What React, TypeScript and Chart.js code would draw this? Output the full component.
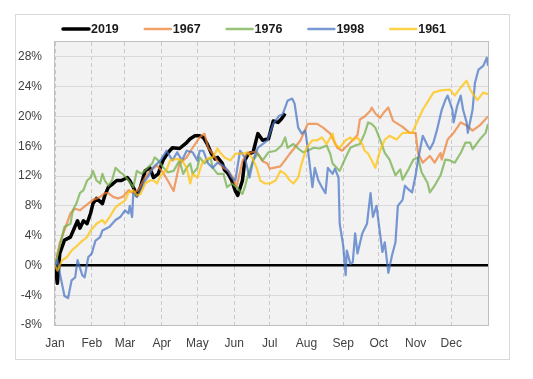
import { useEffect, useRef } from 'react';
import { Chart, registerables } from 'chart.js';

Chart.register(...registerables);

// ---- axis data ----
const monthLabels = ['Jan', 'Feb', 'Mar', 'Apr', 'May', 'Jun', 'Jul', 'Aug', 'Sep', 'Oct', 'Nov', 'Dec'];
const monthStartDays = [0, 31, 59, 90, 120, 151, 181, 212, 243, 273, 304, 334];
const yTicks = [-8, -4, 0, 4, 8, 12, 16, 20, 24, 28];

// ---- series (day of year, YTD % return) ----
const seriesNames = ['2019', '1967', '1976', '1998', '1961'];

const days2019 = [0, 2, 4, 8, 13, 19, 21, 24, 27, 30, 32, 35, 40, 42, 45, 49, 52, 56, 61, 63, 66, 69, 72, 76, 80, 83, 87, 91, 95, 99, 105, 111, 114, 118, 122, 125, 128, 132, 135, 137, 141, 143, 146, 149, 152, 154, 158, 160, 163, 167, 171, 175, 180, 184, 188, 191, 194];
const vals2019 = [0, -2.4, 1.6, 3.4, 3.8, 6, 5, 6, 5.6, 7, 8.3, 9, 8.3, 9.4, 10.5, 11, 11.4, 11.4, 11.8, 11.4, 10.5, 9.4, 10.5, 12.7, 13.1, 11.8, 12.3, 14.1, 15.1, 15.8, 15.7, 16.5, 17, 17.4, 17.4, 17.2, 16.4, 15, 14.3, 14.5, 13.7, 12.8, 12.3, 11.4, 10, 9.4, 11.4, 14.1, 15, 15.2, 17.7, 16.8, 17, 19.4, 19.2, 19.7, 20.4];

const days1967 = [0, 4, 7, 13, 17, 21, 24, 28, 32, 38, 42, 45, 49, 53, 57, 62, 66, 70, 76, 80, 86, 91, 95, 100, 105, 111, 116, 122, 126, 129, 133, 137, 142, 146, 150, 153, 158, 162, 166, 170, 175, 179, 181, 190, 198, 207, 213, 221, 226, 232, 238, 242, 249, 255, 257, 261, 266, 267, 270, 274, 277, 281, 285, 289, 293, 299, 304, 306, 310, 316, 320, 325, 326, 331, 336, 342, 347, 352, 358, 365];
const vals1967 = [0, 3, 4.3, 7, 7.6, 7.4, 7.8, 8.3, 8.8, 9.2, 9.7, 9.7, 9.2, 9, 9.2, 10.1, 9.7, 10.1, 11.8, 12.7, 13.4, 12.5, 11.4, 10, 13.7, 14.5, 15.8, 17.2, 17.7, 15.8, 15, 14, 13.1, 12.7, 11.8, 10.5, 14, 15, 15.2, 15.2, 14, 13.7, 13, 13.3, 15, 16.8, 19, 19, 18.5, 17.7, 15.8, 15.4, 16.5, 17.5, 19.6, 20, 20.8, 21.2, 20.4, 19.8, 20.5, 21.2, 19.4, 19, 18.6, 17.8, 17.8, 15.1, 13.8, 14.7, 13.8, 15.1, 14.2, 16.9, 17.8, 19.2, 18.8, 18.1, 18.8, 20];

const days1976 = [0, 4, 8, 13, 15, 18, 21, 24, 27, 30, 32, 35, 38, 40, 42, 45, 48, 51, 55, 57, 62, 66, 69, 73, 78, 82, 84, 87, 91, 95, 100, 105, 108, 111, 114, 116, 120, 122, 126, 131, 133, 137, 142, 145, 149, 153, 158, 160, 163, 167, 171, 175, 180, 186, 191, 194, 196, 201, 205, 209, 213, 218, 223, 229, 232, 234, 238, 240, 245, 249, 253, 257, 261, 264, 267, 270, 274, 278, 282, 287, 291, 293, 298, 302, 306, 309, 314, 316, 320, 325, 329, 333, 337, 342, 346, 350, 352, 358, 363, 365];
const vals1976 = [0, 2.6, 5.2, 5.6, 7.4, 8.3, 9.7, 10.1, 11.4, 11.8, 12.7, 11.4, 11, 12.3, 11.4, 10.7, 11.4, 13.1, 12.5, 12.3, 11.4, 10.5, 12.7, 12.3, 13.1, 13.7, 14.5, 14.1, 13.2, 12.5, 12.7, 14.1, 12.3, 13.1, 13.7, 12.3, 13.1, 14.5, 13.7, 14.5, 13.1, 12.3, 12.3, 10.5, 11, 10.5, 9.6, 10.5, 12.3, 14.1, 15, 14.1, 15.2, 15.4, 16.1, 17.2, 15.8, 16.3, 15.7, 15.2, 15.4, 15.8, 15.7, 16.1, 15, 13.7, 13, 12.7, 14.5, 15.8, 16.1, 16.3, 17.7, 19.2, 19, 18.5, 16.9, 15.1, 14.2, 12.1, 12.9, 11.5, 12.9, 14.2, 14.5, 12.5, 11.1, 9.8, 10.7, 12.1, 14.2, 14.1, 13.8, 15.1, 16.5, 16.5, 15.6, 16.9, 17.8, 19];

const days1998 = [0, 2, 4, 8, 11, 14, 17, 19, 23, 25, 28, 31, 34, 38, 40, 46, 51, 55, 59, 62, 63, 65, 66, 69, 72, 76, 80, 83, 89, 94, 99, 103, 107, 111, 116, 120, 122, 125, 129, 133, 137, 142, 146, 149, 152, 156, 160, 164, 167, 171, 175, 179, 184, 189, 192, 196, 200, 202, 205, 208, 211, 213, 217, 219, 222, 225, 228, 230, 234, 236, 239, 240, 243, 245, 246, 249, 251, 253, 255, 259, 263, 266, 268, 271, 276, 278, 281, 284, 287, 289, 293, 295, 298, 301, 304, 306, 310, 314, 316, 319, 322, 326, 329, 331, 335, 336, 339, 342, 344, 347, 348, 352, 354, 357, 361, 364, 365];
const vals1998 = [0, 0.7, -1, -4.1, -4.4, -2, -1.6, 0.7, -1.3, -1.6, 1.1, 1.6, 3.3, 3.8, 4.7, 5.2, 6.1, 6.5, 7.4, 7, 8, 6.5, 9.7, 9.2, 10.1, 11.4, 12.3, 13.2, 14.1, 15.4, 14.1, 15.2, 14.1, 15.4, 15.2, 14.1, 15.4, 15.4, 13.7, 13.1, 13.8, 13.4, 12.7, 11.8, 11.4, 15.4, 14.5, 11.8, 14.1, 15.8, 16.3, 16.8, 19, 20.1, 20.3, 22.1, 22.4, 21.7, 18.5, 17.7, 18.1, 15.8, 10.5, 13.1, 11.4, 10.5, 9.7, 13.1, 12.3, 13, 11.8, 5.6, 2.6, -1.3, 2, 0.2, 0.4, 4.3, 1.6, 4.3, 5.6, 9.7, 6.5, 8, 1.8, 3.1, -1, 1.3, 3.1, 8, 8.8, 10.7, 10.2, 9.8, 12.1, 14.2, 17.4, 16.1, 15.6, 16.5, 18.2, 20.9, 22.2, 22.8, 20.9, 19.2, 21.4, 22.8, 20.9, 19.2, 17.8, 20.9, 24.5, 26.3, 26.8, 27.9, 26.8];

const days1961 = [0, 2, 6, 10, 14, 19, 23, 27, 30, 35, 40, 42, 46, 51, 55, 59, 62, 66, 69, 72, 76, 80, 83, 86, 89, 94, 97, 103, 107, 111, 114, 116, 120, 124, 128, 133, 137, 139, 143, 148, 152, 158, 162, 166, 170, 173, 177, 181, 186, 190, 194, 198, 201, 205, 208, 212, 217, 221, 225, 229, 234, 236, 240, 245, 249, 251, 255, 259, 261, 264, 267, 270, 274, 278, 282, 288, 293, 301, 305, 310, 315, 319, 325, 333, 337, 342, 347, 350, 356, 361, 365];
const vals1961 = [0, -0.7, 0.7, 1.1, 2, 2.7, 3.3, 3.8, 4.7, 5.6, 6.1, 5.6, 6.5, 7.8, 8.3, 8.7, 9.8, 10.1, 9.4, 9.6, 11, 11.4, 11.4, 11, 12.1, 12.8, 14.1, 14.3, 14.1, 13.1, 11, 12.3, 11.8, 13.7, 14.3, 14.5, 15.7, 15.2, 14.5, 14.1, 15, 15, 15.2, 14.5, 13.1, 11.4, 11, 11, 11.4, 12.7, 12.3, 11.4, 11, 11.8, 13.7, 15.8, 16.8, 16.8, 17.2, 16.3, 17.7, 16.3, 15.8, 16.8, 17.2, 16.8, 17.2, 16.3, 15.4, 15, 14.1, 13.1, 15.4, 16.9, 17.4, 16.9, 17.8, 17.8, 19.2, 20.9, 22.2, 23.2, 23.5, 23.6, 22.8, 23.9, 24.8, 23.6, 22.2, 23.2, 23];

const seriesDays = [days2019, days1967, days1976, days1998, days1961];
const seriesVals = [vals2019, vals1967, vals1976, vals1998, vals1961];
const seriesColors = ['#000000', 'rgba(237,125,49,0.72)', 'rgba(112,173,71,0.72)', 'rgba(68,114,196,0.72)', 'rgba(255,192,0,0.72)'];
const seriesWidths = [3.5, 2.2, 2.2, 2.2, 2.2];
const seriesOrder = [5, 4, 3, 2, 1];

const FONT = '"Liberation Sans", Arial, sans-serif';

const framePlugin = {
  id: 'frame',
  beforeDraw(chart: any) {
    const { ctx, chartArea: a } = chart;
    ctx.save();
    ctx.fillStyle = '#F2F2F2';
    ctx.fillRect(a.left, a.top, a.right - a.left, a.bottom - a.top);
    ctx.restore();
  },
  beforeDatasetsDraw(chart: any) {
    const { ctx, chartArea: a } = chart;
    ctx.save();
    ctx.strokeStyle = '#BFBFBF';
    ctx.lineWidth = 1;
    ctx.strokeRect(Math.round(a.left) - 0.5, Math.round(a.top) - 0.5, Math.round(a.right - a.left) + 1, Math.round(a.bottom - a.top) + 1);
    ctx.restore();
  },
  afterDraw(chart: any) {
    const ctx = chart.ctx;
    ctx.save();
    ctx.font = 'bold 12.5px ' + FONT;
    ctx.textBaseline = 'middle';
    ctx.textAlign = 'left';
    const lineLen = 26;
    const gap = 2;
    const spacing = 26;
    const widths = seriesNames.map((n) => ctx.measureText(n).width);
    const total = widths.reduce((s, w) => s + lineLen + gap + w, 0) + spacing * (seriesNames.length - 1);
    let x = (chart.width - 16) / 2 - total / 2;
    const y = 14;
    seriesNames.forEach((name, i) => {
      ctx.beginPath();
      ctx.strokeStyle = seriesColors[i];
      ctx.lineWidth = i === 0 ? 3.5 : 2.5;
      ctx.lineCap = 'round';
      ctx.moveTo(x, y);
      ctx.lineTo(x + lineLen, y);
      ctx.stroke();
      ctx.fillStyle = '#1a1a1a';
      ctx.fillText(name, x + lineLen + gap, y + 0.5);
      x += lineLen + gap + widths[i] + spacing;
    });
    ctx.restore();
  },
};

export default function App() {
  const ref = useRef<HTMLCanvasElement>(null);

  useEffect(() => {
    if (!ref.current) return;
    const datasets = seriesNames.map((name, i) => ({
      label: name,
      data: seriesDays[i].map((d, j) => ({ x: d, y: seriesVals[i][j] })),
      borderColor: seriesColors[i],
      backgroundColor: seriesColors[i],
      borderWidth: seriesWidths[i],
      pointRadius: 0,
      tension: 0,
      borderJoinStyle: 'round' as const,
      order: seriesOrder[i],
    }));

    const chart = new Chart(ref.current, {
      type: 'line',
      data: { datasets },
      plugins: [framePlugin],
      options: {
        animation: false,
        responsive: false,
        devicePixelRatio: 1,
        layout: { padding: { top: 27, right: 21, bottom: 0, left: 0 } },
        plugins: {
          legend: { display: false },
          tooltip: { enabled: false },
        },
        scales: {
          x: {
            type: 'linear',
            min: 0,
            max: 365,
            afterBuildTicks: (scale: any) => {
              scale.ticks = monthStartDays.map((v) => ({ value: v }));
            },
            afterFit: (scale: any) => {
              scale.height = 34;
            },
            ticks: {
              autoSkip: false,
              maxRotation: 0,
              padding: 11,
              color: '#404040',
              font: { family: FONT, size: 12 },
              callback: (_v: any, i: number) => monthLabels[i],
            },
            grid: { color: '#C8C8C8', lineWidth: 1, drawTicks: false },
            border: { display: false, dash: [4, 3] },
          },
          y: {
            min: -8,
            max: 30,
            afterBuildTicks: (scale: any) => {
              scale.ticks = yTicks.map((v) => ({ value: v }));
            },
            afterFit: (scale: any) => {
              scale.width = 39;
            },
            ticks: {
              autoSkip: false,
              padding: 13,
              color: '#404040',
              font: { family: FONT, size: 12 },
              callback: (v: any) => v + '%',
            },
            grid: {
              color: (c: any) => (c.tick && c.tick.value === 0 ? '#000000' : '#D9D9D9'),
              lineWidth: (c: any) => (c.tick && c.tick.value === 0 ? 2.5 : 1),
              drawTicks: false,
            },
            border: { display: false },
          },
        },
      },
    });
    return () => chart.destroy();
  }, []);

  return (
    <div
      style={{
        position: 'absolute',
        left: 15,
        top: 14,
        width: 495,
        height: 346,
        border: '1px solid #D9D9D9',
        boxSizing: 'border-box',
        background: '#ffffff',
      }}
    >
      <canvas ref={ref} width={493} height={344} style={{ display: 'block', width: 493, height: 344 }} />
    </div>
  );
}
